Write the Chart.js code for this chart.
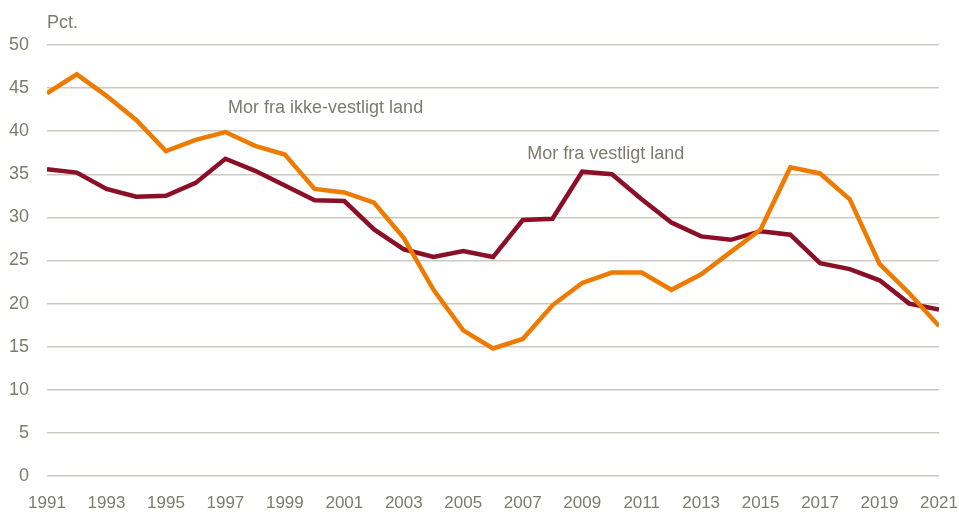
<!DOCTYPE html>
<html>
<head>
<meta charset="utf-8">
<script src="https://cdn.jsdelivr.net/npm/chart.js@4"></script>
<style>
html,body{margin:0;padding:0;background:#fff;}
#wrap{width:959px;height:512px;position:relative;}
</style>
</head>
<body>
<div id="wrap"><canvas id="c" width="959" height="512"></canvas></div>
<script>
const years = [1991,1992,1993,1994,1995,1996,1997,1998,1999,2000,2001,2002,2003,2004,2005,2006,2007,2008,2009,2010,2011,2012,2013,2014,2015,2016,2017,2018,2019,2020,2021];
const ikkeVestligt = [44.4,46.6,44.1,41.3,37.7,39.0,39.9,38.3,37.3,33.3,32.9,31.7,27.6,21.6,16.9,14.8,15.9,19.8,22.4,23.6,23.6,21.6,23.4,26.0,28.6,35.8,35.1,32.1,24.6,21.2,17.4];
const vestligt = [35.6,35.2,33.3,32.4,32.5,34.0,36.8,35.4,33.7,32.0,31.9,28.6,26.3,25.4,26.1,25.4,29.7,29.85,35.3,35.0,32.1,29.4,27.8,27.4,28.4,28.0,24.7,24.0,22.7,20.0,19.3];
const yTicks = [0,5,10,15,20,25,30,35,40,45,50];
const unitLabel = 'Pct.';
const seriesNames = ['Mor fra ikke-vestligt land','Mor fra vestligt land'];

const FONT = '"Liberation Sans Narrow","Arial Narrow","Liberation Sans",sans-serif';
const TXT = '#7d7b6f';

const labelPlugin = {
  id: 'labels',
  afterDraw(chart) {
    const {ctx, chartArea, scales} = chart;
    ctx.save();
    ctx.fillStyle = TXT;
    ctx.font = '18px ' + FONT;
    ctx.textBaseline = 'middle';
    ctx.textAlign = 'left';
    ctx.fillText(unitLabel, chartArea.left, 23);
    const xs = scales.x, ys = scales.y;
    const pos = [[1997.09, 42.7],[2007.15, 37.4]];
    seriesNames.forEach((n,i)=>{
      ctx.fillText(n, xs.getPixelForValue(pos[i][0]), ys.getPixelForValue(pos[i][1]));
    });
    ctx.restore();
  }
};

new Chart(document.getElementById('c'), {
  type: 'line',
  data: {
    datasets: [
      {label: seriesNames[0], data: years.map((y,i)=>({x:y,y:ikkeVestligt[i]})), borderColor:'#ee7a00', borderWidth:4.5, pointRadius:0, tension:0, fill:false},
      {label: seriesNames[1], data: years.map((y,i)=>({x:y,y:vestligt[i]})), borderColor:'#8a0f27', borderWidth:4.5, pointRadius:0, tension:0, fill:false}
    ]
  },
  options: {
    responsive:false,
    animation:false,
    devicePixelRatio:1,
    layout:{padding:{top:45,right:20,left:0,bottom:0}},
    plugins:{legend:{display:false},tooltip:{enabled:false},title:{display:false}},
    scales:{
      x:{
        type:'linear', min:1991, max:2021,
        afterBuildTicks(s){ s.ticks = years.filter((y,i)=>i%2===0).map(v=>({value:v})); },
        afterFit(s){ s.height = 36; s.paddingLeft = 0; s.paddingRight = 0; },
        grid:{display:false},
        border:{display:false},
        ticks:{color:TXT, font:{family:FONT,size:17}, padding:9, maxRotation:0, autoSkip:false, callback:v=>String(v)}
      },
      y:{
        min:0,max:50,
        afterBuildTicks(s){ s.ticks = yTicks.map(v=>({value:v})); },
        afterFit(s){ s.width = 47; },
        grid:{color:'#cbc9c0', lineWidth:1.5, drawTicks:false},
        border:{display:false},
        ticks:{color:TXT, font:{family:FONT,size:18}, padding:18}
      }
    }
  },
  plugins:[labelPlugin]
});
</script>
</body>
</html>
